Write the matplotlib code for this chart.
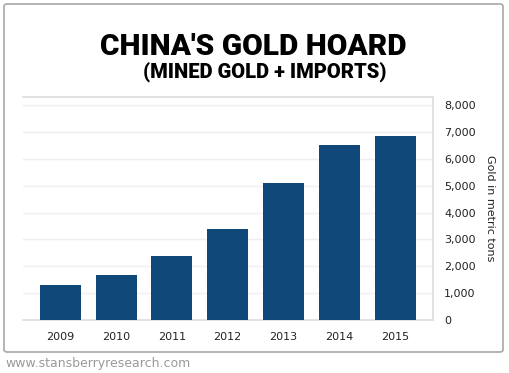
import numpy as np
import matplotlib
matplotlib.use("Agg")
import matplotlib.pyplot as plt
from matplotlib.patches import FancyBboxPatch
from matplotlib.ticker import FuncFormatter

# data
years = ['2009', '2010', '2011', '2012', '2013', '2014', '2015']
gold_tons = [1290, 1690, 2380, 3400, 5110, 6530, 6840]
yticks = [0, 1000, 2000, 3000, 4000, 5000, 6000, 7000, 8000]

W, H = 510, 373
fig = plt.figure(figsize=(W / 100, H / 100), dpi=100)
fig.patch.set_facecolor('white')

# rounded gray frame
frame = FancyBboxPatch((4 / W, 1 - 352 / H), 499 / W, 348 / H,
                       boxstyle="round,pad=0,rounding_size=0.006",
                       transform=fig.transFigure, fill=False,
                       edgecolor='#a8a8a8', linewidth=1.2)
fig.patches.append(frame)

# axes: left 23, right 433, top 97, bottom 320 (pixels)
ax = fig.add_axes([23 / W, 1 - 320 / H, 410 / W, 223 / H])
x = np.arange(len(years))
ax.bar(x, gold_tons, width=0.735, color='#10487a', zorder=3)
ax.set_xlim(-0.67, 6.68)
ax.set_ylim(0, 8300)

ax.yaxis.tick_right()
ax.yaxis.set_label_position('right')
ax.set_yticks(yticks)
ax.yaxis.set_major_formatter(FuncFormatter(lambda v, p: '{:,.0f}'.format(v)))
ax.set_xticks(x)
ax.set_xticklabels(years)
ax.tick_params(axis='both', length=0, labelsize=8, colors='#222222')
ax.tick_params(axis='y', pad=8)
ax.tick_params(axis='x', pad=9)
ax.grid(axis='y', color='#efefef', linewidth=1, zorder=0)

ax.spines['left'].set_visible(False)
for s in ['top', 'bottom', 'right']:
    ax.spines[s].set_color('#dddddd')
    ax.spines[s].set_linewidth(1.2)

ax.set_ylabel('Gold in metric tons', rotation=-90, fontsize=8,
              color='#222222', labelpad=14)

title_font = ['Roboto', 'DejaVu Sans']
fig.text(253 / W, 1 - 47 / H, "CHINA'S GOLD HOARD", ha='center', va='center',
         fontsize=21.5, fontweight='black', color='black', family=title_font)
fig.text(265 / W, 1 - 72 / H, "(MINED GOLD + IMPORTS)", ha='center', va='center',
         fontsize=14.5, fontweight='black', color='black', family=title_font)

fig.text(5 / W, 1 - 364 / H, 'www.stansberryresearch.com', ha='left', va='center',
         fontsize=9, color='#9a9a9a')

fig.savefig('out.png', dpi=100)
